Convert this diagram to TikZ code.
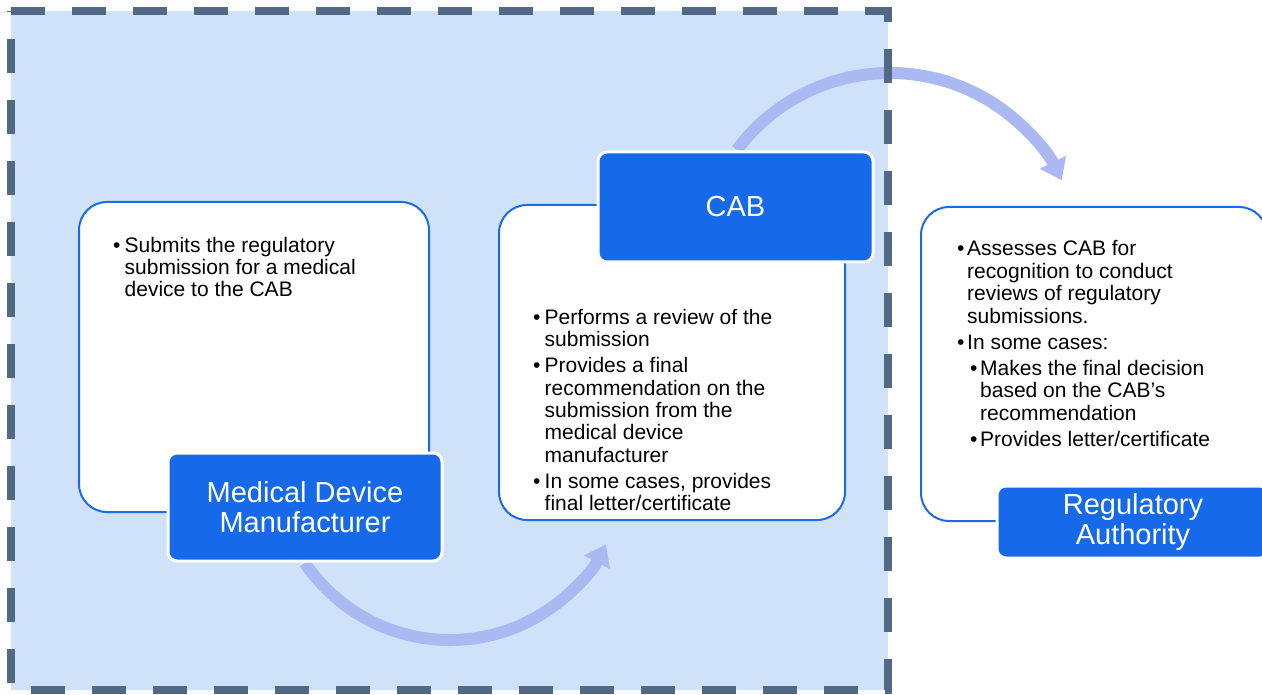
\documentclass[tikz,border=0pt]{standalone}
\usepackage{fontspec}
\setmainfont{Liberation Sans}
\usetikzlibrary{arrows.meta}
\definecolor{bgfill}{RGB}{208,225,250}
\definecolor{dashc}{RGB}{82,105,133}
\definecolor{cardblue}{RGB}{28,107,230}
\definecolor{labblue}{RGB}{22,106,234}
\definecolor{arrowc}{RGB}{170,185,242}
\newcommand{\bl}[1][11.5pt]{\makebox[#1][l]{•}}
\newcommand{\ind}[1][11.5pt]{\hspace*{#1}}
\begin{document}
\begin{tikzpicture}[x=1pt,y=1pt,
  card/.style={draw=cardblue, line width=2pt, fill=white, rounded corners=28pt, inner sep=0pt},
  labelbox/.style={draw=white, line width=3pt, fill=labblue, rounded corners=9pt, text=white,
    font=\fontsize{29}{30}\selectfont, align=center, inner sep=0pt},
  bodytext/.style={font=\fontsize{21}{22.4}\selectfont, align=left, inner sep=0pt, anchor=north west, text=black},
  flow/.style={draw=arrowc, line width=12pt, -{Triangle[length=20pt,width=28pt]}},
  dashframe/.style={draw=dashc, line width=8pt, dash pattern=on 34pt off 27pt},
]
\useasboundingbox (0,0) rectangle (1262,-695);
\clip (0,0) rectangle (1262,-695);
% background
\fill[bgfill] (11,-11) rectangle (888,-690);
% arcs
\coordinate (c1) at (450,-465);
\coordinate (c2) at (890,-264);
\draw[flow] ([shift={(214:175)}]c1) arc[start angle=214, end angle=333, radius=175];
\draw[flow] ([shift={(143.3:191)}]c2) arc[start angle=143.3, end angle=26, radius=191];
% dashed frame
\draw[dashframe] (11,-11) -- (888,-11) -- (888,-690) -- (11,-690) -- cycle;
% cards
\node[card, minimum width=350pt, minimum height=310pt] (mdmcard) at (254,-357) {};
\node[card, minimum width=346pt, minimum height=315pt] (cabcard) at (672,-362.5) {};
\node[card, minimum width=346pt, minimum height=314pt] (racard) at (1094,-364) {};
% body texts
\node[bodytext] (mdmtext) at (113,-236.6) {\bl Submits the regulatory\\\ind submission for a medical\\\ind device to the CAB};
\node[bodytext] (cabtext) at (533,-308.6) {\bl Performs a review of the\\\ind submission\\[3.8pt]
\bl Provides a final\\\ind recommendation on the\\\ind submission from the\\\ind medical device\\\ind manufacturer\\[3.8pt]
\bl In some cases, provides\\\ind final letter/certificate};
\node[bodytext] (ratext) at (957,-240.6) {\bl[10pt]Assesses CAB for\\\ind[10pt]recognition to conduct\\\ind[10pt]reviews of regulatory\\\ind[10pt]submissions.\\[3.8pt]
\bl[10pt]In some cases:\\[3.8pt]
\ind[13pt]\bl[10pt]Makes the final decision\\\ind[23pt]based on the CAB’s\\\ind[23pt]recommendation\\[3.8pt]
\ind[13pt]\bl[10pt]Provides letter/certificate};
% labels
\node[labelbox, minimum width=274pt, minimum height=108pt] (mdm) at (305,-507) {Medical Device\\Manufacturer};
\node[labelbox, minimum width=275pt, minimum height=110pt] (cab) at (735.5,-207) {CAB};
\node[labelbox, minimum width=272pt, minimum height=72pt] (ra) at (1133,-522) {Regulatory\\Authority};
\end{tikzpicture}
\end{document}
